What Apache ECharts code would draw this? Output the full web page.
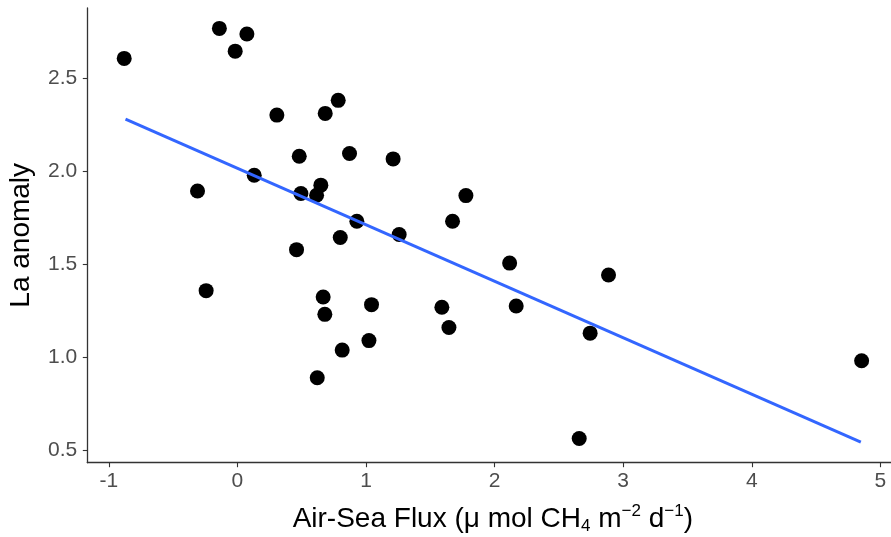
<!DOCTYPE html>
<html>
<head>
<meta charset="utf-8">
<script src="https://cdn.jsdelivr.net/npm/echarts@6/dist/echarts.min.js"></script>
<style>html,body{margin:0;padding:0;background:#fff}#c{width:891px;height:537px}</style>
</head>
<body>
<div id="c"></div>
<script>
var fluxX = [-0.88,-0.14,0.074,-0.017,0.307,0.784,0.683,0.481,0.872,-0.31,0.131,0.494,0.649,0.616,0.929,0.80,
  1.211,1.777,1.673,1.258,
  0.46,-0.243,0.667,0.68,1.043,1.023,0.815,0.621,
  1.59,1.645,2.117,2.168,2.886,2.743,2.658,
  4.854];
var anomalyY = [2.604,2.765,2.735,2.643,2.30,2.379,2.309,2.079,2.094,1.893,1.977,1.879,1.924,1.870,1.730,1.643,
  2.065,1.868,1.730,1.659,
  1.578,1.358,1.324,1.231,1.283,1.09,1.039,0.891,
  1.269,1.16,1.506,1.276,1.442,1.130,0.565,
  0.982];
var fitX = [-0.87, 4.848];
var fitY = [2.278, 0.545];
var xTicks = [-1,0,1,2,3,4,5];
var yTicks = [0.5,1.0,1.5,2.0,2.5];

var pts = fluxX.map(function(x,i){return [x, anomalyY[i]];});
var fit = fitX.map(function(x,i){return [x, fitY[i]];});

var chart = echarts.init(document.getElementById('c'), null, {renderer:'canvas'});
var axisCol = '#333333';
var labCol = '#4D4D4D';
var font = 'Liberation Sans, Arial, sans-serif';
chart.setOption({
  animation:false,
  backgroundColor:'#ffffff',
  grid:{left:87.3, top:7.9, right:-7.4, bottom:74.3, containLabel:false, outerBoundsMode:'none'},
  xAxis:{
    type:'value', min:-1.167, max:5.14,
    axisLine:{show:true, onZero:false, lineStyle:{color:axisCol, width:1.3}},
    axisTick:{show:true, length:4.5, lineStyle:{color:axisCol, width:1.1}, customValues:xTicks},
    axisLabel:{color:labCol, fontSize:21, fontFamily:font, margin:8, customValues:xTicks,
      formatter:function(v){return String(v);}},
    splitLine:{show:false},
    name:'{a|Air-Sea Flux (μ mol CH}{sub|4}{a| m}{sup|−2}{a| d}{sup|−1}{a|)}',
    nameLocation:'middle', nameGap:41,
    nameTextStyle:{
      rich:{
        a:{fontSize:28, fontFamily:font, color:'#000', lineHeight:32, verticalAlign:'middle'},
        sub:{fontSize:17, fontFamily:font, color:'#000', lineHeight:32, verticalAlign:'middle', padding:[14,0,0,0]},
        sup:{fontSize:17, fontFamily:font, color:'#000', lineHeight:32, verticalAlign:'middle', padding:[0,0,16,0]}
      }
    }
  },
  yAxis:{
    type:'value', min:0.435, max:2.875,
    axisLine:{show:true, onZero:false, lineStyle:{color:axisCol, width:1.3}},
    axisTick:{show:true, length:4.5, lineStyle:{color:axisCol, width:1.1}, customValues:yTicks},
    axisLabel:{color:labCol, fontSize:21, fontFamily:font, margin:10, customValues:yTicks,
      formatter:function(v){return v.toFixed(1);}},
    splitLine:{show:false},
    name:'La anomaly', nameLocation:'middle', nameGap:52, nameRotate:90,
    nameTextStyle:{fontSize:28, fontFamily:font, color:'#000'}
  },
  series:[
    {type:'scatter', data:pts, symbol:'circle', symbolSize:15, itemStyle:{color:'#000', opacity:1}, z:2, silent:true},
    {type:'line', data:fit, showSymbol:false, symbol:'none', lineStyle:{color:'#3366FF', width:3}, z:3, silent:true}
  ]
});
</script>
</body>
</html>
